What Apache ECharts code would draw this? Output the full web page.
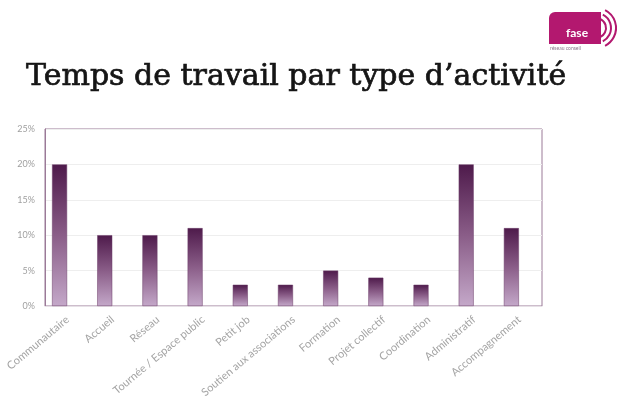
<!DOCTYPE html>
<html><head><meta charset="utf-8">
<script src="https://cdn.jsdelivr.net/npm/echarts@6/dist/echarts.min.js"></script>
<style>html,body{margin:0;padding:0;background:#fff}#c{width:626px;height:409px}</style>
</head><body><div id="c"></div>
<script>
const titleText = 'Temps de travail par type d\u2019activité';
const categories = ['Communautaire','Accueil','Réseau','Tournée / Espace public','Petit job','Soutien aux associations','Formation','Projet collectif','Coordination','Administratif','Accompagnement'];
const values = [20,10,10,11,3,3,5,4,3,20,11];
const yTicks = [0,5,10,15,20,25];

const chart = echarts.init(document.getElementById('c'));
chart.setOption({
  backgroundColor:'#fff',
  animation:false,
  title:{text:titleText,left:21,top:57,textStyle:{fontFamily:'DejaVu Serif',fontSize:30,fontWeight:'normal',color:'#151515',textBorderColor:'#151515',textBorderWidth:0.7}},
  grid:{left:45,right:84,top:129,bottom:103,show:true,borderColor:'#9b7a98',borderWidth:1,backgroundColor:'transparent'},
  xAxis:{type:'category',data:categories,
    axisLine:{lineStyle:{color:'#e6e0e6'}},axisTick:{show:false},
    axisLabel:{interval:0,rotate:40,color:'#a4a4a4',fontFamily:'Lato',fontSize:11,margin:12}},
  yAxis:{type:'value',min:yTicks[0],max:yTicks[yTicks.length-1],interval:5,
    axisLine:{show:true,lineStyle:{color:'#9b7a98'}},axisTick:{show:false},
    splitLine:{lineStyle:{color:'#eeeeee'}},
    axisLabel:{color:'#a0a0a0',fontSize:9,fontFamily:'Lato',formatter:v=>v+'%',margin:10}},
  series:[
    {type:'bar',data:values,barWidth:15,barGap:'7%',
     itemStyle:{borderColor:'#6a3a66',borderWidth:0.5,
       color:new echarts.graphic.LinearGradient(0,0,0,1,[{offset:0,color:'#4e1a4b'},{offset:0.5,color:'#8a5d88'},{offset:1,color:'#c4a8c9'}])}},
    {type:'bar',data:[],barWidth:15}
  ],
  graphic:[
    {type:'rect',left:549,top:12,shape:{width:52,height:32,r:[6,0,0,0]},style:{fill:'#b3186f'}},
    {type:'text',left:566,top:27,style:{text:'fase',fill:'#fff',font:'bold 12px Lato'}},
    {type:'text',left:550,top:46,style:{text:'réseau conseil',fill:'#8a7a8a',font:'5px Lato'}},
    {type:'arc',shape:{cx:596,cy:28,r:10,startAngle:-1.1,endAngle:1.1},style:{stroke:'#b3186f',lineWidth:2,fill:null}},
    {type:'arc',shape:{cx:596,cy:28,r:15,startAngle:-1.1,endAngle:1.1},style:{stroke:'#b3186f',lineWidth:2,fill:null}},
    {type:'arc',shape:{cx:596,cy:28,r:20,startAngle:-1.1,endAngle:1.1},style:{stroke:'#b3186f',lineWidth:2,fill:null}}
  ]
});
</script></body></html>
